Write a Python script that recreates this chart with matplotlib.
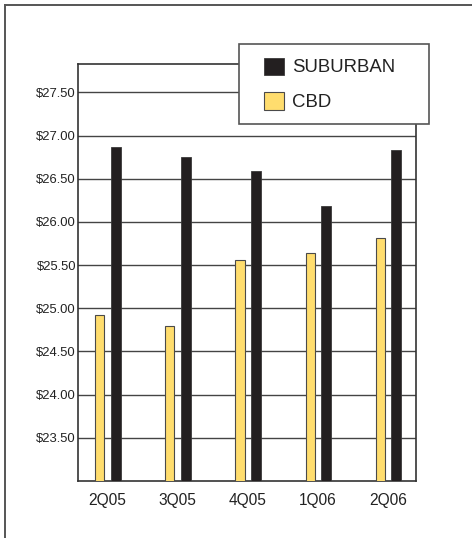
import matplotlib

matplotlib.use("Agg")

import matplotlib.pyplot as plt
import numpy as np
from matplotlib.patches import Rectangle

quarters = ["2Q05", "3Q05", "4Q05", "1Q06", "2Q06"]
cbd = [24.92, 24.80, 25.56, 25.64, 25.81]
suburban = [26.87, 26.75, 26.59, 26.19, 26.83]
ytick_values = [23.5, 24.0, 24.5, 25.0, 25.5, 26.0, 26.5, 27.0, 27.5]

INK = "#231f20"
GOLD = "#ffdd6e"
EDGE = "#4a4a4a"
FRAME = "#555555"

plt.rcParams.update({"font.family": ["Liberation Sans", "DejaVu Sans"]})

W, H = 472, 538
fig = plt.figure(figsize=(W / 100, H / 100), dpi=100)
fig.patch.set_facecolor("white")


def fx(px):
    return px / W


def fy(py):
    return 1 - py / H


# outer panel frame: only the top and left edges fall inside the canvas
fig.add_artist(plt.Line2D([fx(5), fx(5)], [0, fy(5)], color=FRAME, lw=1.4,
                          transform=fig.transFigure))
fig.add_artist(plt.Line2D([fx(5), 1], [fy(5), fy(5)], color=FRAME, lw=1.4,
                          transform=fig.transFigure))

ax = fig.add_axes([fx(78), fy(481), fx(416) - fx(78), fy(64) - fy(481)])

x = np.arange(len(quarters))
ax.bar(x - 0.11, cbd, width=0.13, color=GOLD, edgecolor=EDGE, linewidth=0.8,
       label="CBD", zorder=3)
ax.bar(x + 0.12, suburban, width=0.14, color=INK, edgecolor="#3a3a3a", linewidth=0.6,
       label="SUBURBAN", zorder=3)

ax.set_xlim(-0.42, 4.4)
ax.set_ylim(23.0, 27.83)
ax.set_xticks(x)
ax.set_xticklabels(quarters, fontsize=11.2, color="#222222")
ax.set_yticks(ytick_values)
ax.set_yticklabels([f"${v:.2f}" for v in ytick_values], fontsize=9.4, color="#222222")
ax.tick_params(axis="both", length=0)
ax.tick_params(axis="x", pad=9)
ax.tick_params(axis="y", pad=1.5)
ax.yaxis.grid(True, color="#444444", linewidth=1.0, zorder=1)
ax.set_axisbelow(True)
for spine in ax.spines.values():
    spine.set_color("#333333")
    spine.set_linewidth(1.2)

# legend panel sits over the top right corner of the plot frame
fig.add_artist(Rectangle((fx(239), fy(124)), fx(429) - fx(239), fy(44) - fy(124),
                         transform=fig.transFigure, facecolor="white",
                         edgecolor=FRAME, linewidth=1.2, zorder=1))

handles, labels = ax.get_legend_handles_labels()
leg = fig.legend(
    handles[::-1],
    labels[::-1],
    loc="upper left",
    bbox_to_anchor=(fx(264), fy(57.5)),
    borderaxespad=0,
    borderpad=0,
    fontsize=13.4,
    frameon=False,
    handlelength=1.05,
    handleheight=1.05,
    handletextpad=0.45,
    labelspacing=0.85,
)
leg.set_zorder(2)
for t in leg.get_texts():
    t.set_color("#222222")

fig.savefig("out.png", dpi=100, facecolor="white")
